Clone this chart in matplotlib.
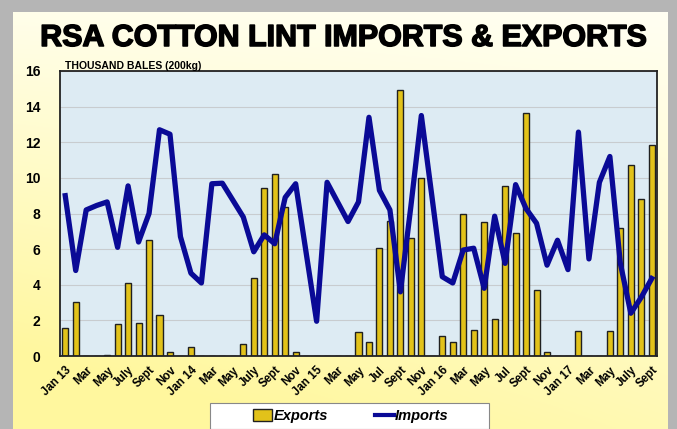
import numpy as np
import matplotlib
matplotlib.use('Agg')
import matplotlib.pyplot as plt
import matplotlib.patheffects as pe
from matplotlib.patches import Patch, Rectangle
from matplotlib.lines import Line2D

# data - monthly, Jan 2013 .. Sept 2017
months = ['Jan 13', 'Feb', 'Mar', 'Apr', 'May', 'Jun', 'July', 'Aug', 'Sept', 'Oct', 'Nov', 'Dec',
          'Jan 14', 'Feb', 'Mar', 'Apr', 'May', 'Jun', 'July', 'Aug', 'Sept', 'Oct', 'Nov', 'Dec',
          'Jan 15', 'Feb', 'Mar', 'Apr', 'May', 'Jun', 'Jul', 'Aug', 'Sept', 'Oct', 'Nov', 'Dec',
          'Jan 16', 'Feb', 'Mar', 'Apr', 'May', 'Jun', 'Jul', 'Aug', 'Sept', 'Oct', 'Nov', 'Dec',
          'Jan 17', 'Feb', 'Mar', 'Apr', 'May', 'Jun', 'July', 'Aug', 'Sept']

exports = [1.6, 3.05, 0, 0, 0.05, 1.8, 4.1, 1.85, 6.5, 2.3, 0.2, 0,
           0.5, 0, 0, 0, 0, 0.7, 4.4, 9.45, 10.2, 8.35, 0.25, 0,
           0, 0, 0, 0, 1.33, 0.8, 6.05, 7.6, 14.95, 6.6, 10.0, 0,
           1.15, 0.8, 8.0, 1.45, 7.5, 2.07, 9.55, 6.9, 13.65, 3.7, 0.22, 0,
           0, 1.42, 0, 0, 1.4, 7.2, 10.75, 8.8, 11.85]

imports = [9.0, 4.8, 8.2, 8.45, 8.65, 6.1, 9.55, 6.4, 8.0, 12.7, 12.45, 6.7,
           4.65, 4.1, 9.67, 9.7, 8.75, 7.8, 5.85, 6.8, 6.3, 8.9, 9.67, 5.8,
           1.95, 9.75, 8.65, 7.55, 8.65, 13.4, 9.3, 8.2, 3.6, 8.4, 13.5, 9.0,
           4.45, 4.1, 5.95, 6.05, 3.8, 7.85, 5.2, 9.62, 8.27, 7.45,
           5.1, 6.5, 4.85, 12.57, 5.45, 9.75, 11.2, 5.2, 2.4, 3.3, 4.35]

x = np.arange(len(months))
ticks = x[::2]
tick_labels = [months[i] for i in ticks]

W, H = 677, 429
fig = plt.figure(figsize=(W / 100, H / 100), dpi=100)
fig.patch.set_facecolor('#b5b5b5')

# background with gradient
bg = fig.add_axes([13 / W, 0, (668 - 13) / W, (H - 12) / H])
gy, gx = np.mgrid[0:1:200j, 0:1:200j]
t = np.clip(0.75 * gy + 0.35 * (1 - gx) * gy + 0.1 * (1 - gx), 0, 1)
top = np.array([1.0, 1.0, 0.95])
bot = np.array([1.0, 0.97, 0.62])
img = top[None, None, :] * (1 - t[..., None]) + bot[None, None, :] * t[..., None]
bg.imshow(img, aspect='auto', extent=[0, 1, 0, 1], origin='upper')
bg.axis('off')

fig.text(343 / W, (H - 38) / H, 'RSA COTTON LINT IMPORTS & EXPORTS', ha='center', va='center',
         fontsize=21.9, fontweight='heavy', family='Liberation Sans', color='black',
         path_effects=[pe.withStroke(linewidth=1.1, foreground='black')])

ax = fig.add_axes([60 / W, (H - 356) / H, 597 / W, 285 / H])
ax.set_facecolor('#ddebf3')
ax.bar(x, exports, width=0.58, color='#e2c21a', edgecolor='#202020', linewidth=1.0, zorder=2)
ax.plot(x, imports, color='#0a0a96', linewidth=3.8, zorder=3, solid_joinstyle='round')

ax.set_xlim(-0.5, len(months) - 0.5)
ax.set_ylim(0, 16)
ax.set_yticks(range(0, 17, 2))
ax.yaxis.grid(True, color='#c8cccf', linewidth=0.8, zorder=0)
ax.set_axisbelow(True)
ax.set_xticks(ticks)
ax.set_xticklabels(tick_labels, rotation=45, ha='right', rotation_mode='anchor',
                   fontsize=8.3, fontweight='bold', family='Liberation Sans')
for lab in ax.get_yticklabels():
    lab.set_fontsize(10)
    lab.set_fontweight('bold')
    lab.set_family('Liberation Sans')
ax.tick_params(axis='both', length=0, pad=6)
ax.tick_params(axis='y', pad=14)
for s in ax.spines.values():
    s.set_color('#222222')
    s.set_linewidth(1.3)

fig.text(65 / W, (H - 66) / H, 'THOUSAND BALES (200kg)', ha='left', va='center',
         fontsize=7.5, fontweight='bold', family='Liberation Sans')

# legend box
fig.patches.append(Rectangle((210 / W, 0), 279 / W, 26 / H, transform=fig.transFigure,
                             facecolor='white', edgecolor='#888888', linewidth=0.8, zorder=5))
handles = [Patch(facecolor='#e2c21a', edgecolor='#202020', linewidth=1.0),
           Line2D([0], [0], color='#0a0a96', linewidth=3)]
leg = fig.legend(handles, ['Exports', 'Imports'], loc='center', ncol=2,
                 bbox_to_anchor=(351 / W, (H - 416) / H), frameon=False,
                 prop={'family': 'Liberation Sans', 'weight': 'bold', 'style': 'italic', 'size': 10.5},
                 handlelength=1.3, handleheight=0.8, handletextpad=0.1, columnspacing=3.2,
                 borderpad=0.2)
leg.set_zorder(6)

fig.savefig('out.png', dpi=100)
